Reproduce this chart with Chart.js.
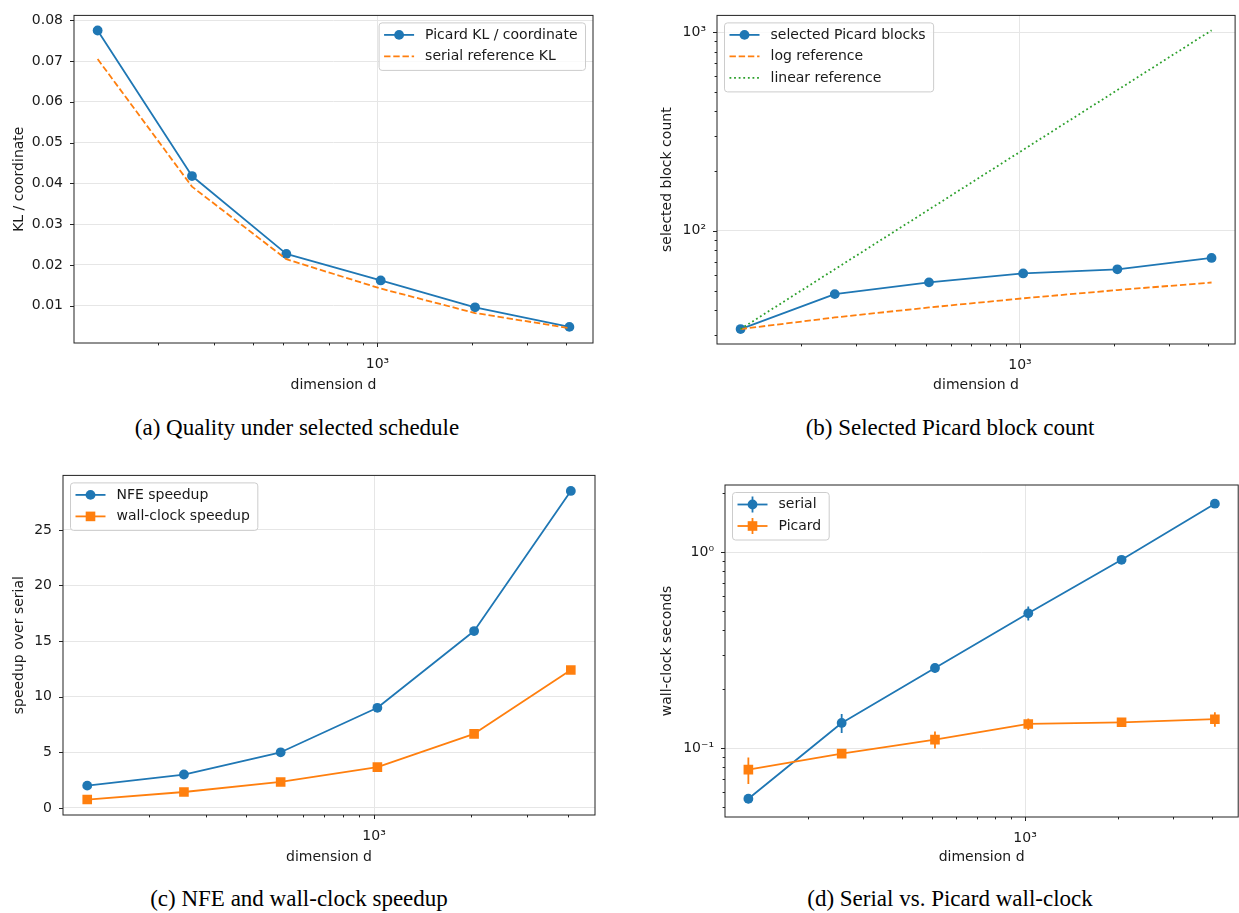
<!DOCTYPE html>
<html><head><meta charset="utf-8">
<script src="https://cdn.jsdelivr.net/npm/chart.js@4.4.1/dist/chart.umd.min.js"></script>
<style>
html,body{margin:0;padding:0;background:#fff;}
#wrap{position:relative;width:1239px;height:913px;overflow:hidden;background:#fff;}
canvas{position:absolute;}
.cap{position:absolute;width:600px;text-align:center;font-family:'Liberation Serif','Times New Roman',serif;font-size:23px;line-height:normal;color:#000;white-space:nowrap;}
</style></head>
<body><div id="wrap">
<canvas id="ca" width="620" height="400" style="left:0;top:0;width:620px;height:400px"></canvas>
<canvas id="cb" width="620" height="400" style="left:620px;top:0;width:620px;height:400px"></canvas>
<canvas id="cc" width="620" height="420" style="left:0;top:460px;width:620px;height:420px"></canvas>
<canvas id="cd" width="625" height="420" style="left:620px;top:460px;width:625px;height:420px"></canvas>
<div class="cap" style="left:-3px;top:415px">(a) Quality under selected schedule</div>
<div class="cap" style="left:650px;top:415px">(b) Selected Picard block count</div>
<div class="cap" style="left:-1px;top:886px">(c) NFE and wall-clock speedup</div>
<div class="cap" style="left:650px;top:886px">(d) Serial vs. Picard wall-clock</div>
</div>
<script>
// ---------- data ----------
const dims = [128, 256, 512, 1024, 2048, 4096];
const picardKL = [0.0775, 0.0418, 0.0227, 0.0162, 0.0096, 0.0048];
const serialKL = [0.0705, 0.0392, 0.0214, 0.0142, 0.0082, 0.0045];
const picardBlocks = [32, 48, 55, 61, 64, 73];
const logReference = [32, 36.6, 41.1, 45.7, 50.3, 54.9];
const linearReference = [32, 64, 128, 256, 512, 1024];
const nfeSpeedup = [2.0, 3.0, 5.0, 9.0, 15.9, 28.5];
const wallSpeedup = [0.75, 1.43, 2.33, 3.67, 6.66, 12.4];
const serialSeconds = [0.0553, 0.1346, 0.2565, 0.4876, 0.914, 1.766];
const serialErr = [0.003, 0.015, 0.013, 0.04, 0.03, 0.05];
const picardSeconds = [0.0778, 0.0939, 0.1107, 0.133, 0.1356, 0.1406];
const picardErr = [0.012, 0.003, 0.011, 0.009, 0.004, 0.012];

const xTicks = [200, 300, 400, 500, 600, 700, 800, 900, 1000, 2000, 3000, 4000];
const xTickLabels = ['', '', '', '', '', '', '', '', '10³', '', '', ''];
const klTicks = [0.01, 0.02, 0.03, 0.04, 0.05, 0.06, 0.07, 0.08];
const klTickLabels = ['0.01', '0.02', '0.03', '0.04', '0.05', '0.06', '0.07', '0.08'];
const blockTicks = [30, 40, 50, 60, 70, 80, 90, 100, 200, 300, 400, 500, 600, 700, 800, 900, 1000];
const blockTickLabels = ['', '', '', '', '', '', '', '10²', '', '', '', '', '', '', '', '', '10³'];
const speedTicks = [0, 5, 10, 15, 20, 25];
const speedTickLabels = ['0', '5', '10', '15', '20', '25'];
const secTicks = [0.05, 0.06, 0.07, 0.08, 0.09, 0.1, 0.2, 0.3, 0.4, 0.5, 0.6, 0.7, 0.8, 0.9, 1, 2];
const secTickLabels = ['', '', '', '', '', '10⁻¹', '', '', '', '', '', '', '', '', '10⁰', ''];

const xLimits = [107.6, 4871];

// ---------- styling ----------
const BLUE = '#1f77b4', ORANGE = '#ff7f0e', GREEN = '#2ca02c';
const FONT = 'DejaVu Sans';
const TEXT = '#1a1a1a';
const GRID = '#e6e6e6';
Chart.defaults.font.family = FONT;
Chart.defaults.font.size = 14;
Chart.defaults.color = TEXT;

const pts = (ys) => dims.map((d, i) => ({x: d, y: ys[i]}));

function setTicks(vals, labels) {
  return function (scale) {
    scale.ticks = vals.map((v, i) => ({value: v, major: labels[i] !== ''}))
      .filter(t => t.value >= scale.min && t.value <= scale.max);
  };
}
function labelCb(vals, labels) {
  return function (value) {
    const i = vals.findIndex(v => Math.abs(v - value) < 1e-9 * Math.max(1, Math.abs(v)));
    return i >= 0 ? labels[i] : '';
  };
}

const framePlugin = {
  id: 'frame',
  afterDraw(chart) {
    const {ctx, chartArea: a} = chart;
    const xs = chart.scales.x, ys = chart.scales.y;
    ctx.save();
    ctx.strokeStyle = '#222';
    ctx.lineWidth = 1;
    ctx.beginPath();
    xs.ticks.forEach(t => {
      const p = Math.round(xs.getPixelForValue(t.value)) + 0.5;
      const len = t.major ? 4 : 2.4;
      ctx.moveTo(p, a.bottom); ctx.lineTo(p, a.bottom + len);
    });
    ys.ticks.forEach(t => {
      const p = Math.round(ys.getPixelForValue(t.value)) + 0.5;
      const len = t.major ? 4 : 2.4;
      ctx.moveTo(a.left, p); ctx.lineTo(a.left - len, p);
    });
    ctx.stroke();
    ctx.strokeRect(a.left, a.top, a.right - a.left, a.bottom - a.top);
    ctx.restore();
  }
};

function drawMarker(ctx, style, r, x, y, color) {
  ctx.fillStyle = color;
  ctx.beginPath();
  if (style === 'rect') {
    const s = r * Math.SQRT1_2;
    ctx.rect(x - s, y - s, 2 * s, 2 * s);
  } else {
    ctx.arc(x, y, r, 0, Math.PI * 2);
  }
  ctx.fill();
}

const legendPlugin = {
  id: 'mlegend',
  afterDraw(chart, args, opts) {
    if (!opts || !opts.corner) return;
    const {ctx, chartArea: a} = chart;
    const dss = chart.data.datasets;
    ctx.save();
    ctx.font = '14px "' + FONT + '"';
    const textW = Math.max(...dss.map(d => ctx.measureText(d.label).width));
    const w = 46 + textW + 8;
    const rowH = 21.5;
    const h = dss.length * rowH + 4.5;
    const inset = 7.5;
    const x = opts.corner === 'ne' ? a.right - inset - w : a.left + inset;
    const y = a.top + inset;
    ctx.beginPath();
    ctx.roundRect(x, y, w, h, 3);
    ctx.fillStyle = 'rgba(255,255,255,0.8)';
    ctx.fill();
    ctx.strokeStyle = '#cccccc';
    ctx.lineWidth = 1;
    ctx.stroke();
    dss.forEach((d, i) => {
      const cy = y + 12 + i * rowH;
      ctx.strokeStyle = d.borderColor;
      ctx.lineWidth = d.borderWidth;
      if (d.errors) {
        ctx.beginPath(); ctx.moveTo(x + 20, cy - 8); ctx.lineTo(x + 20, cy + 8); ctx.stroke();
      }
      ctx.setLineDash(d.borderDash || []);
      ctx.beginPath(); ctx.moveTo(x + 5, cy); ctx.lineTo(x + 35, cy); ctx.stroke();
      ctx.setLineDash([]);
      if (d.pointRadius > 0) drawMarker(ctx, d.pointStyle, d.pointRadius, x + 20, cy, d.borderColor);
      ctx.fillStyle = TEXT;
      ctx.textBaseline = 'middle';
      ctx.textAlign = 'left';
      ctx.fillText(d.label, x + 46, cy);
    });
    ctx.restore();
  }
};

const errPlugin = {
  id: 'errbars',
  beforeDatasetDraw(chart, args) {
    const ds = chart.data.datasets[args.index];
    if (!ds.errors) return;
    const {ctx} = chart;
    const ys = chart.scales.y;
    ctx.save();
    ctx.strokeStyle = ds.borderColor;
    ctx.lineWidth = ds.borderWidth;
    ctx.beginPath();
    ds.data.forEach((p, i) => {
      const el = args.meta.data[i];
      ctx.moveTo(el.x, ys.getPixelForValue(p.y + ds.errors[i]));
      ctx.lineTo(el.x, ys.getPixelForValue(p.y - ds.errors[i]));
    });
    ctx.stroke();
    ctx.restore();
  }
};
Chart.register(framePlugin, legendPlugin, errPlugin);

function series(label, ys, color, opt) {
  return Object.assign({
    label, data: pts(ys), borderColor: color, backgroundColor: color,
    borderWidth: 1.8, pointRadius: 4.9, pointStyle: 'circle',
    pointBorderWidth: 0, pointHoverRadius: 4.9, pointBackgroundColor: color,
    tension: 0, fill: false, borderJoinStyle: 'round'
  }, opt || {});
}

function makeChart(id, p) {
  const datasets = p.datasets.map((d, i, arr) => Object.assign(d, {order: arr.length - i}));
  return new Chart(document.getElementById(id), {
    type: 'line',
    data: {datasets},
    options: {
      responsive: false, animation: false, devicePixelRatio: 1,
      events: [],
      layout: {padding: p.padding},
      plugins: {legend: {display: false}, tooltip: {enabled: false}, mlegend: {corner: p.corner}},
      scales: {
        x: {
          type: 'logarithmic', bounds: 'data', min: xLimits[0], max: xLimits[1],
          afterBuildTicks: setTicks(xTicks, xTickLabels),
          afterFit: s => { s.height = p.xHeight; },
          ticks: {autoSkip: false, maxRotation: 0, padding: 8.5, color: TEXT, font: {size: 14},
                  callback: labelCb(xTicks, xTickLabels)},
          grid: {color: c => (c.tick && c.tick.major) ? GRID : 'rgba(0,0,0,0)', lineWidth: 1,
                 drawTicks: true, tickLength: 4, tickColor: 'rgba(0,0,0,0)'},
          border: {display: false},
          title: {display: true, text: 'dimension d', color: TEXT, font: {size: 14},
                  padding: {top: 0, bottom: p.xTitlePad}}
        },
        y: {
          type: p.yType, bounds: 'data', min: p.yMin, max: p.yMax,
          afterBuildTicks: setTicks(p.yTicks, p.yLabels),
          afterFit: s => { s.width = p.yWidth; },
          ticks: {autoSkip: false, padding: 7, color: TEXT, font: {size: 14},
                  callback: labelCb(p.yTicks, p.yLabels)},
          grid: {color: c => (c.tick && c.tick.major) ? GRID : 'rgba(0,0,0,0)', lineWidth: 1,
                 drawTicks: true, tickLength: 4, tickColor: 'rgba(0,0,0,0)'},
          border: {display: false},
          title: {display: true, text: p.yTitle, color: TEXT, font: {size: 14},
                  padding: {top: p.yTitlePad, bottom: 0}}
        }
      }
    }
  });
}

const DASH = [6.4, 2.8];
const DOT = [1.8, 2.8];

makeChart('ca', {
  padding: {left: 0, right: 27, top: 12, bottom: 0}, yWidth: 74, xHeight: 57,
  yType: 'linear', yMin: 0.00085, yMax: 0.0812, yTicks: klTicks, yLabels: klTickLabels,
  yTitle: 'KL / coordinate', yTitlePad: 10.6, xTitlePad: 6.6, corner: 'ne',
  datasets: [
    series('Picard KL / coordinate', picardKL, BLUE),
    series('serial reference KL', serialKL, ORANGE, {pointRadius: 0, pointHoverRadius: 0, borderDash: DASH})
  ]
});

makeChart('cb', {
  padding: {left: 0, right: 1, top: 9, bottom: 0}, yWidth: 97, xHeight: 56,
  yType: 'logarithmic', yMin: 26.9, yMax: 1218, yTicks: blockTicks, yLabels: blockTickLabels,
  yTitle: 'selected block count', yTitlePad: 38.6, xTitlePad: 6.6, corner: 'nw',
  datasets: [
    series('selected Picard blocks', picardBlocks, BLUE),
    series('log reference', logReference, ORANGE, {pointRadius: 0, pointHoverRadius: 0, borderDash: DASH}),
    series('linear reference', linearReference, GREEN, {pointRadius: 0, pointHoverRadius: 0, borderDash: DOT})
  ]
});

makeChart('cc', {
  padding: {left: 0, right: 25, top: 15, bottom: 0}, yWidth: 63, xHeight: 65,
  yType: 'linear', yMin: -0.64, yMax: 29.9, yTicks: speedTicks, yLabels: speedTickLabels,
  yTitle: 'speedup over serial', yTitlePad: 10.6, xTitlePad: 14.6, corner: 'nw',
  datasets: [
    series('NFE speedup', nfeSpeedup, BLUE),
    series('wall-clock speedup', wallSpeedup, ORANGE, {pointStyle: 'rect', pointRadius: 6.8, pointHoverRadius: 6.8})
  ]
});

makeChart('cd', {
  padding: {left: 0, right: 2, top: 25, bottom: 0}, yWidth: 105, xHeight: 63,
  yType: 'logarithmic', yMin: 0.0446, yMax: 2.2, yTicks: secTicks, yLabels: secTickLabels,
  yTitle: 'wall-clock seconds', yTitlePad: 38.6, xTitlePad: 14.6, corner: 'nw',
  datasets: [
    series('serial', serialSeconds, BLUE, {errors: serialErr}),
    series('Picard', picardSeconds, ORANGE, {pointStyle: 'rect', pointRadius: 6.8, pointHoverRadius: 6.8, errors: picardErr})
  ]
});
</script>
</body></html>
